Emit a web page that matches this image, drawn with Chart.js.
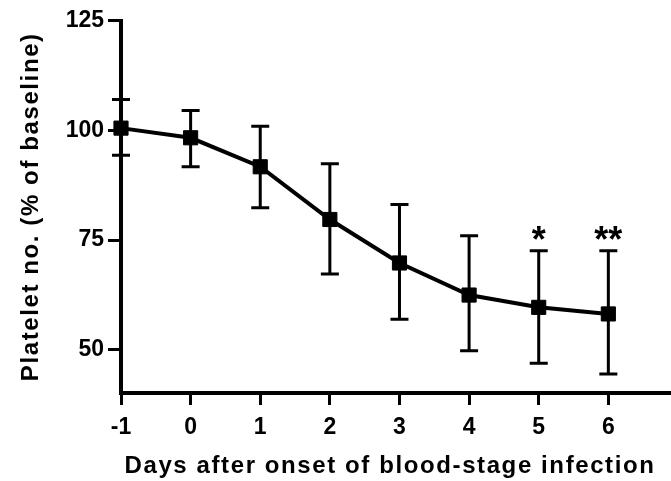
<!DOCTYPE html>
<html>
<head>
<meta charset="utf-8">
<script src="https://cdn.jsdelivr.net/npm/chart.js@4.4.0/dist/chart.umd.min.js"></script>
<style>
  html, body { margin: 0; padding: 0; background: #fff; }
  #wrap { width: 671px; height: 481px; }
</style>
</head>
<body>
<div id="wrap"><canvas id="plateletChart"></canvas></div>
<script>
// 데이터
const days = [-1, 0, 1, 2, 3, 4, 5, 6];
const meanValues = [100.5, 98.3, 91.7, 79.7, 69.8, 62.5, 59.7, 58.2];
const upperValues = [107.0, 104.5, 100.9, 92.4, 83.1, 76.0, 72.6, 72.6];
const lowerValues = [94.3, 91.7, 82.4, 67.3, 57.0, 49.8, 47.0, 44.5];
const sigLabels = ['', '', '', '', '', '', '*', '**'];
const xTickLabels = ['-1', '0', '1', '2', '3', '4', '5', '6'];
const yTickValues = [50, 75, 100, 125];
const xTitle = 'Days after onset of blood-stage infection';
const yTitle = 'Platelet no. (% of baseline)';

const FONT = "'Liberation Sans', Arial, sans-serif";

// 오차 막대 + 유의성 표시 플러그인
const errorBarPlugin = {
    id: 'errorBars',
    beforeDatasetsDraw(chart) {
        const ctx = chart.ctx;
        const xs = chart.scales.x;
        const ys = chart.scales.y;
        const cap = 9;
        ctx.save();
        ctx.strokeStyle = '#000';
        ctx.lineWidth = 3;
        days.forEach((d, i) => {
            const x = xs.getPixelForValue(d);
            const yTop = ys.getPixelForValue(upperValues[i]);
            const yBot = ys.getPixelForValue(lowerValues[i]);
            ctx.beginPath();
            ctx.moveTo(x, yTop);
            ctx.lineTo(x, yBot);
            ctx.moveTo(x - cap, yTop);
            ctx.lineTo(x + cap, yTop);
            ctx.moveTo(x - cap, yBot);
            ctx.lineTo(x + cap, yBot);
            ctx.stroke();
        });
        ctx.restore();
    },
    afterDatasetsDraw(chart) {
        const ctx = chart.ctx;
        const xs = chart.scales.x;
        const ys = chart.scales.y;
        ctx.save();
        ctx.fillStyle = '#000';
        ctx.font = 'bold 36px ' + FONT;
        ctx.textAlign = 'center';
        ctx.textBaseline = 'alphabetic';
        days.forEach((d, i) => {
            if (!sigLabels[i]) return;
            const x = xs.getPixelForValue(d);
            const y = ys.getPixelForValue(upperValues[i]);
            ctx.fillText(sigLabels[i], x, y + 1);
        });
        ctx.restore();
    }
};

// 축 제목 (원본 글꼴이 더 넓어서 자간을 조금 줌)
const axisTitlePlugin = {
    id: 'axisTitles',
    afterDraw(chart) {
        const ctx = chart.ctx;
        const area = chart.chartArea;
        ctx.save();
        ctx.fillStyle = '#000';
        ctx.font = 'bold 24px ' + FONT;
        ctx.letterSpacing = '1.6px';
        ctx.textAlign = 'center';
        ctx.textBaseline = 'alphabetic';
        // x축 제목
        ctx.fillText(xTitle, (area.left + area.right) / 2 - 6, chart.height - 8);
        // y축 제목
        ctx.translate(38, (area.top + area.bottom) / 2);
        ctx.rotate(-Math.PI / 2);
        ctx.fillText(yTitle, 0, 0);
        ctx.restore();
    }
};

document.addEventListener('DOMContentLoaded', function() {
    const ctx = document.getElementById('plateletChart').getContext('2d');

    new Chart(ctx, {
        type: 'line',
        data: {
            datasets: [{
                data: days.map((d, i) => ({ x: d, y: meanValues[i] })),
                borderColor: '#000',
                backgroundColor: '#000',
                borderWidth: 4,
                pointStyle: 'rect',
                pointRadius: 10,
                pointBorderWidth: 1,
                pointBackgroundColor: '#000',
                pointBorderColor: '#000',
                tension: 0,
                fill: false,
                clip: false
            }]
        },
        options: {
            responsive: true,
            maintainAspectRatio: false,
            animation: false,
            layout: { autoPadding: false, padding: { top: 20.5, right: 0, bottom: 0, left: 0 } },
            plugins: {
                legend: { display: false },
                tooltip: { enabled: false }
            },
            scales: {
                x: {
                    type: 'linear',
                    min: -1,
                    max: 6.9,
                    afterFit: function(scale) { scale.height = 88; },
                    border: { display: true, color: '#000', width: 4 },
                    grid: {
                        display: true,
                        drawOnChartArea: false,
                        drawTicks: true,
                        tickLength: 12,
                        tickWidth: 3,
                        tickColor: '#000'
                    },
                    ticks: {
                        stepSize: 1,
                        includeBounds: false,
                        padding: 9,
                        color: '#000',
                        font: { family: FONT, size: 23, weight: 'bold' },
                        callback: function(value) {
                            const idx = days.indexOf(value);
                            return idx >= 0 ? xTickLabels[idx] : '';
                        }
                    }
                },
                y: {
                    min: 40.2,
                    max: 125,
                    afterFit: function(scale) { scale.width = 121; },
                    afterBuildTicks: function(scale) {
                        scale.ticks = yTickValues.map(v => ({ value: v }));
                    },
                    border: { display: true, color: '#000', width: 4 },
                    grid: {
                        display: true,
                        drawOnChartArea: false,
                        drawTicks: true,
                        tickLength: 13,
                        tickWidth: 3,
                        tickColor: '#000'
                    },
                    ticks: {
                        padding: 4,
                        color: '#000',
                        font: { family: FONT, size: 23, weight: 'bold' }
                    }
                }
            }
        },
        plugins: [errorBarPlugin, axisTitlePlugin]
    });
});
</script>
</body>
</html>
